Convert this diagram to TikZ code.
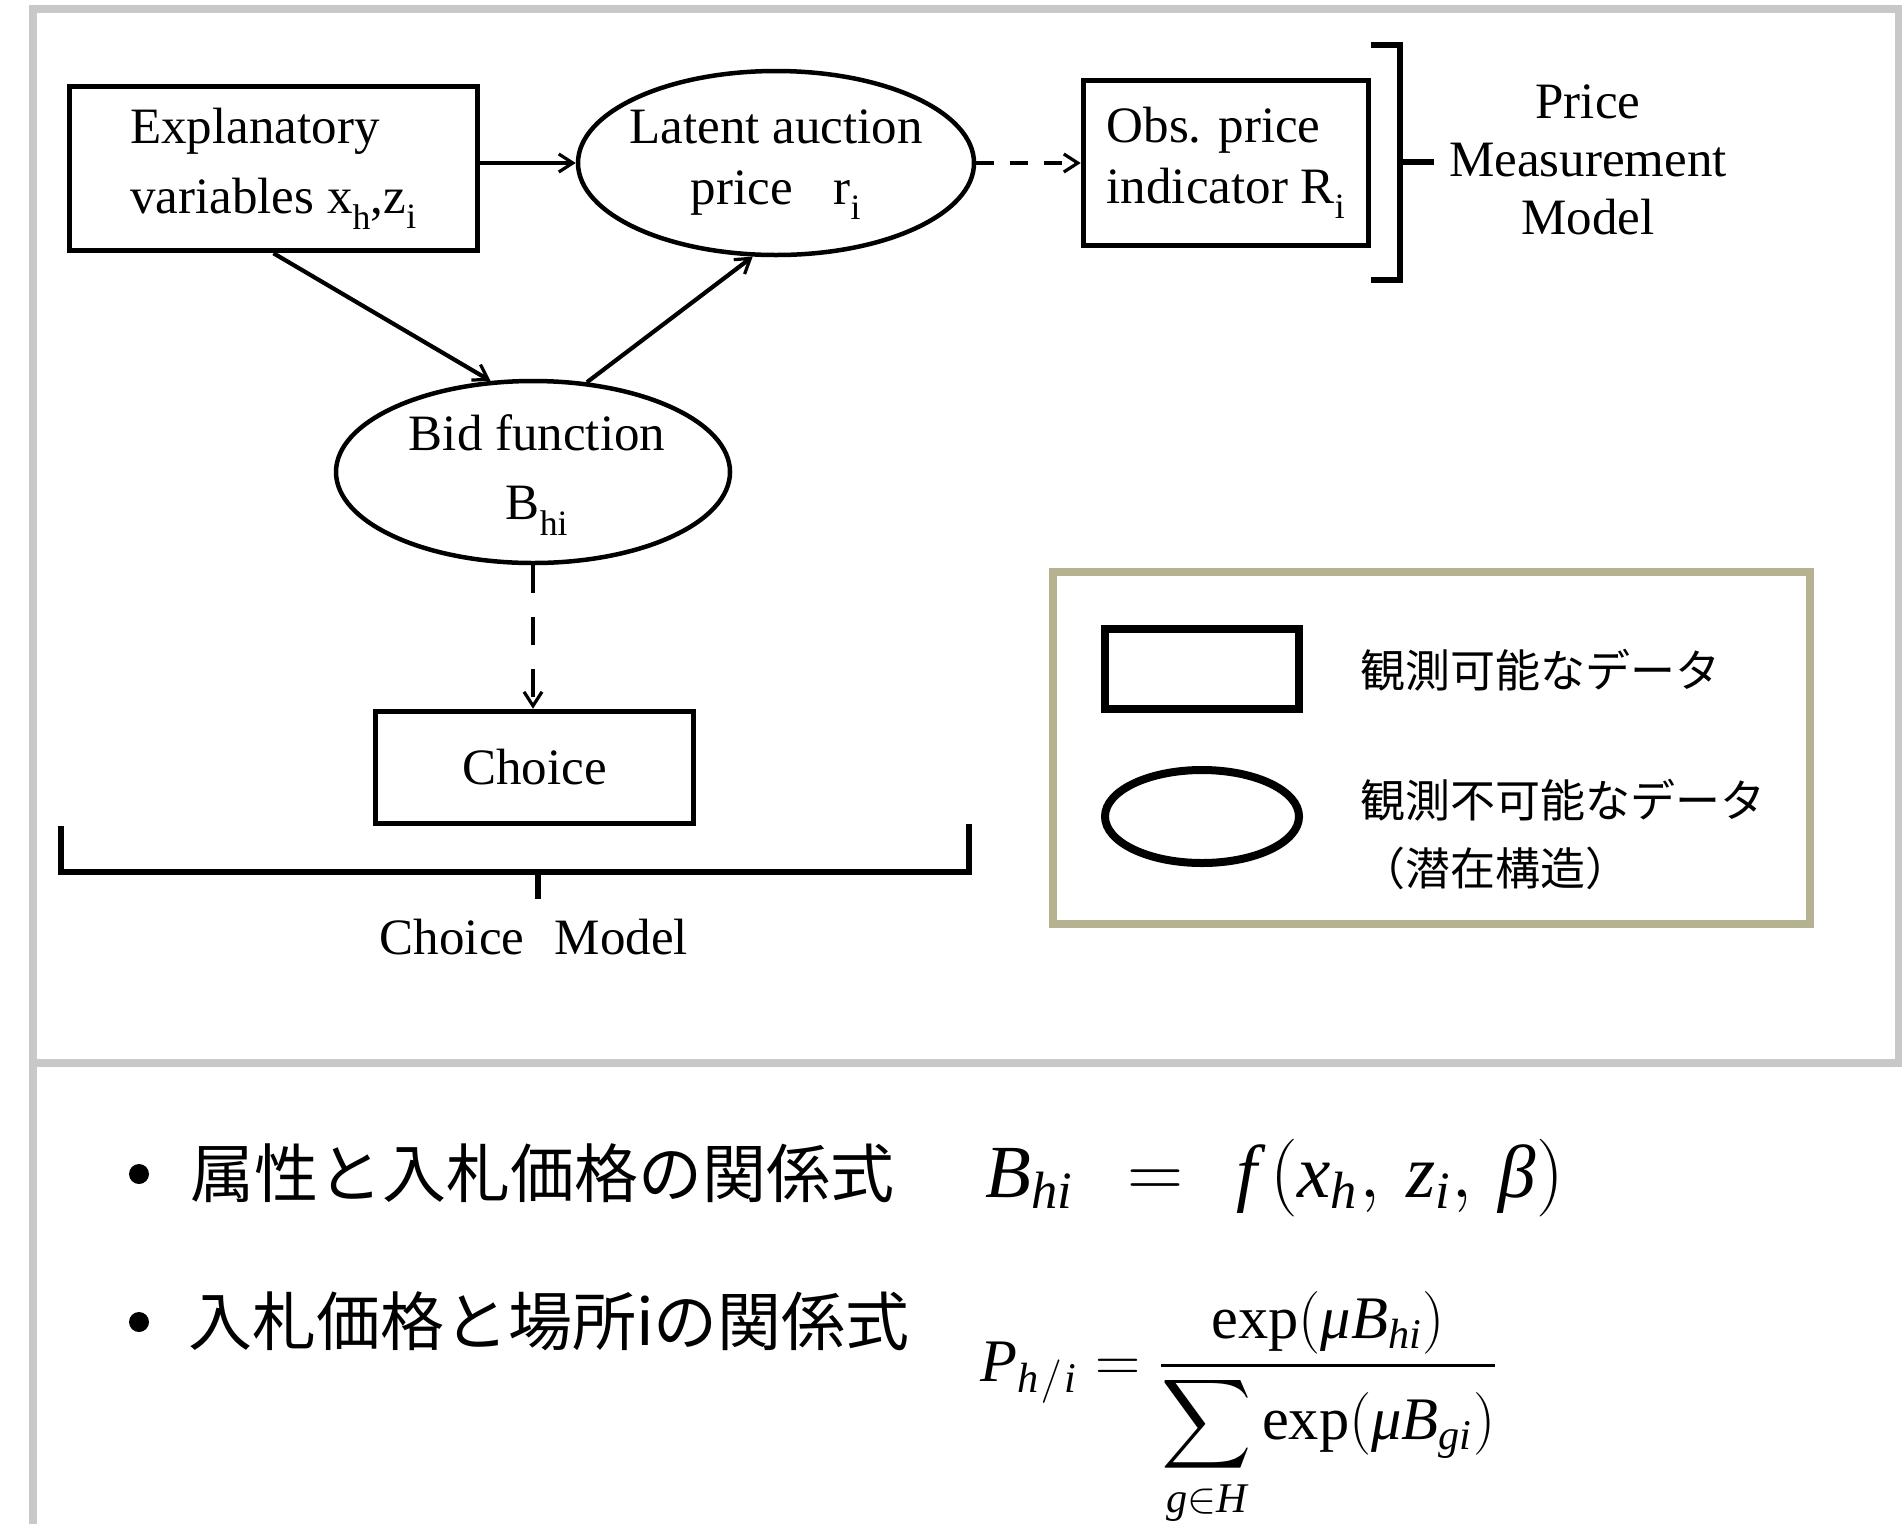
\documentclass[tikz,border=0pt]{standalone}
\usepackage{amsmath}
\usepackage{fontspec}
\setmainfont{Liberation Serif}
\newfontfamily\cjk{Noto Sans CJK JP}
\usetikzlibrary{arrows.meta,shapes.geometric}
\definecolor{panelgray}{RGB}{200,200,200}
\definecolor{legendolive}{RGB}{181,178,145}
\newcommand{\mi}[1]{\text{\itshape #1}}
\begin{document}
\begin{tikzpicture}[x=1pt,y=-1pt,
  diagtext/.style={font=\fontsize{51}{61}\selectfont},
  obsbox/.style={draw, rectangle, line width=5.5pt, inner sep=0pt},
  latbox/.style={draw, ellipse, line width=4.5pt, inner sep=0pt},
  arr/.style={line width=4.2pt, -{Straight Barb[length=14pt,width=18pt,line width=3.2pt]}},
  darr/.style={arr, dash pattern=on 18pt off 16pt},
  bracketline/.style={line width=5.5pt},
  legtext/.style={font=\cjk\fontsize{45}{54}\selectfont, anchor=base west, inner sep=0pt},
  bullettext/.style={font=\cjk\fontsize{64}{72}\selectfont, anchor=base west, inner sep=0pt},
  bulletdot/.style={circle, fill=black, minimum size=20pt, inner sep=0pt}
]
\useasboundingbox (0,0) rectangle (1902,1524);
\fill[white] (0,0) rectangle (1902,1524);

% panel frames
\draw[panelgray, line width=8pt] (33,8.5) rectangle (1898.5,1062.5);
\draw[panelgray, line width=8pt] (33,1062.5) -- (33,1524);

% ---- diagram nodes ----
\node[obsbox, diagtext, minimum width=408pt, minimum height=164pt, align=left] (expl) at (273.5,168.5)
  {Explanatory\\[9pt]variables x\textsubscript{h},z\textsubscript{i}};
\node[latbox, minimum width=396pt, minimum height=184pt] (latent) at (776,163) {};
\node[diagtext, align=center, inner sep=0pt] (latent-t) at (776,165) {Latent auction\\price\hspace{0.8em}r\textsubscript{i}};
\node[latbox, minimum width=394pt, minimum height=182pt] (bid) at (533,472) {};
\node[diagtext, align=center, inner sep=0pt] (bid-t) at (537,475) {Bid function\\[8pt]B\textsubscript{hi}};
\node[obsbox, diagtext, minimum width=285pt, minimum height=165pt, align=left] (obs) at (1226,163)
  {Obs. price\\indicator R\textsubscript{i}};
\node[obsbox, diagtext, minimum width=318pt, minimum height=112pt] (choice) at (534.5,767.5) {Choice};

\node[diagtext, align=center, inner sep=15pt, font=\fontsize{51}{58}\selectfont] (pmm) at (1588,160) {Price\\Measurement\\Model};
\node[diagtext, anchor=base, inner sep=0pt] (cm) at (534,954) {Choice\hspace{0.6em}Model};

% ---- connectors ----
\draw[arr] (expl.east |- latent.west) -- (latent.west);
\draw[arr] (expl.south) -- (bid.115);
\draw[arr] (bid.59) -- (latent.256);
\draw[darr] (latent.east) -- (obs.west |- latent.east);
\draw[arr, line width=4.5pt, dash pattern=on 28pt off 24pt] (bid.south) -- (bid.south |- choice.north);

% right bracket (Price Measurement Model)
\coordinate (rb-top) at (1371,45);
\coordinate (rb-bot) at (1371,280);
\coordinate (rb-mid) at (1400,162);
\draw[bracketline] (rb-top) -- (1400,45) -- (1400,280) -- (rb-bot);
\draw[bracketline] (rb-mid) -- (pmm.west |- rb-mid);

% bottom bracket (Choice Model)
\coordinate (cb-left) at (61,826);
\coordinate (cb-right) at (969,824);
\coordinate (cb-mid) at (538,872);
\coordinate (cb-end) at (538,899);
\draw[bracketline] (cb-left) -- (61,872) -- (969,872) -- (cb-right);
\draw[bracketline] (cb-mid) -- (cb-end);

% ---- legend ----
\node[draw=legendolive, line width=8pt, rectangle, minimum width=757pt, minimum height=352pt, inner sep=0pt] (legend) at (1431.5,748) {};
\node[draw, rectangle, line width=8pt, minimum width=194pt, minimum height=80pt, inner sep=0pt] (lrect) at (1202,669) {};
\node[draw, ellipse, line width=8pt, minimum width=194pt, minimum height=93pt, inner sep=0pt] (lell) at (1202,816.5) {};
\node[legtext] (leg1) at (1360,687) {観測可能なデータ};
\node[legtext] (leg2) at (1360,817) {観測不可能なデータ};
\node[legtext] (leg3) at (1360,885) {（潜在構造）};

% ---- bottom panel ----
\node[bulletdot] (b1) at (139,1174) {};
\node[bulletdot] (b2) at (139,1322) {};
\node[bullettext] (t1) at (190,1197) {属性と入札価格の関係式};
\node[bullettext] (t2) at (188,1345) {入札価格と場所iの関係式};

\node[anchor=base west, inner sep=0pt, font=\fontsize{20}{24}\selectfont] (f1) at (985,1197)
  {\scalebox{3.75}{$\mi{B}_{\mi{hi}}\ \,=\ \,\mi{f}\,(\mi{x}_{\mi{h}},\,\mi{z}_{\mi{i}},\,\mi{β})$}};
\node[anchor=base west, inner sep=0pt, font=\fontsize{20}{24}\selectfont] (f2) at (980,1381)
  {\scalebox{3.02}{$\displaystyle \mi{P}_{\mi{h}\mkern1mu/\mkern1mu\mi{i}} = \frac{\text{exp}(\mi{μ}\mi{B}_{\mi{hi}})}{\displaystyle\sum_{\mi{g}\in \mi{H}}\text{exp}(\mi{μ}\mi{B}_{\mi{gi}})}$}};
\end{tikzpicture}
\end{document}
